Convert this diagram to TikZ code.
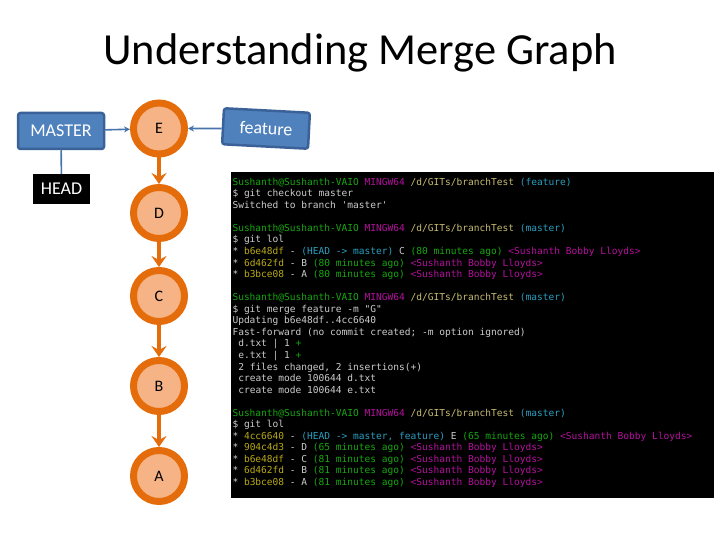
\documentclass[tikz,border=0pt]{standalone}
\usepackage{fontspec}
\setmainfont{Carlito}
\newfontfamily\termfont{DejaVu Sans Mono}
\usetikzlibrary{arrows.meta}
\definecolor{ringorange}{HTML}{E46C0A}
\definecolor{ringfill}{HTML}{F6B486}
\definecolor{boxblue}{HTML}{4F81BD}
\definecolor{boxedge}{HTML}{3A6298}
\definecolor{termgreen}{HTML}{16A80F}
\definecolor{termpink}{HTML}{B5109E}
\definecolor{termpath}{HTML}{C8BC70}
\definecolor{termcyan}{HTML}{2A9FC0}
\definecolor{termgray}{HTML}{CCCCCC}
\definecolor{termhash}{HTML}{B8A818}
\newcommand{\pgreen}[1]{\textcolor{termgreen}{#1}}
\newcommand{\ppink}[1]{\textcolor{termpink}{#1}}
\newcommand{\ppath}[1]{\textcolor{termpath}{#1}}
\newcommand{\pcyan}[1]{\textcolor{termcyan}{#1}}
\newcommand{\phash}[1]{\textcolor{termhash}{#1}}
\newcommand{\prompt}[1]{\pgreen{Sushanth@Sushanth-VAIO} \ppink{MINGW64} \ppath{/d/GITs/branchTest} \pcyan{(#1)}}
\newcommand{\who}{\ppink{<Sushanth Bobby Lloyds>}}
\newcommand{\termrow}[2]{\node[termline] (row#1) at (\xterm,{\ytop+#1*\rowgap}) {#2};}
\tikzset{
    commit/.style = {circle, draw = ringorange, fill = ringfill, line width = 7pt, minimum size = 51pt, inner sep = 0pt, font = \fontsize{16}{16}\selectfont},
    parent/.style = {draw = ringorange, line width = 3.5pt, -{Stealth[inset = 4pt, length = 11pt, width = 15pt]}},
    refbox/.style = {rectangle, rounded corners = 2.5pt, draw = boxedge, fill = boxblue, line width = 2.5pt, text = white, minimum height = 36pt, font = \fontsize{18}{18}\selectfont},
    pointer/.style = {draw = boxblue!90!black, line width = 1.6pt},
    termline/.style = {anchor = base west, inner sep = 0pt, text = termgray, font = \termfont\fontsize{9.55}{9.55}\selectfont}
}
\begin{document}
\begin{tikzpicture}[x = 1pt, y = -1pt]
    % Parametri
    \pgfmathsetmacro{\xring}{159}
    \pgfmathsetmacro{\xterm}{232.3}
    \pgfmathsetmacro{\ytop}{185.2}
    \pgfmathsetmacro{\rowgap}{11.55}
    \useasboundingbox (0,0) rectangle (720,540);
    \fill[white] (0,0) rectangle (720,540);

    % Titolo
    \node (title) at (360,53) {\fontsize{44.4}{44.4}\selectfont Understanding Merge Graph};

    % Commit
    \node[commit] (nodeE) at (\xring,128.5) {E};
    \node[commit] (nodeD) at (\xring,213) {D};
    \node[commit] (nodeC) at (\xring,296) {C};
    \node[commit] (nodeB) at (\xring,386) {B};
    \node[commit] (nodeA) at (\xring,476) {A};
    \draw[parent] (nodeE) -- (nodeD);
    \draw[parent] (nodeD) -- (nodeC);
    \draw[parent] (nodeC) -- (nodeB);
    \draw[parent] (nodeB) -- (nodeA);

    % Riferimenti
    \node[refbox, minimum width = 86pt] (master) at (61,131) {MASTER};
    \node[refbox, minimum width = 86pt, rotate = -3] (feature) at (266,128.5) {feature};
    \node[fill = black, text = white, minimum width = 57pt, minimum height = 30pt, inner sep = 0pt, font = \fontsize{18}{18}\selectfont] (head) at (61.5,189) {HEAD};
    \draw[pointer, -{Stealth[length = 6pt, width = 6pt]}] (master) -- (nodeE);
    \draw[pointer, -{Stealth[length = 6pt, width = 6pt]}] (feature) -- (nodeE);
    \draw[pointer] (master) -- (head);

    % Terminale
    \node[fill = black, minimum width = 483pt, minimum height = 326pt, inner sep = 0pt, anchor = north west] (term) at (231,172) {};
    \termrow{0}{\prompt{feature}}
    \termrow{1}{\$ git checkout master}
    \termrow{2}{Switched to branch 'master'}
    \termrow{4}{\prompt{master}}
    \termrow{5}{\$ git lol}
    \termrow{6}{* \phash{b6e48df} - \pcyan{(HEAD -> master)} C \pgreen{(80 minutes ago)} \who}
    \termrow{7}{* \phash{6d462fd} - B \pgreen{(80 minutes ago)} \who}
    \termrow{8}{* \phash{b3bce08} - A \pgreen{(80 minutes ago)} \who}
    \termrow{10}{\prompt{master}}
    \termrow{11}{\$ git merge feature -m "G"}
    \termrow{12}{Updating b6e48df..4cc6640}
    \termrow{13}{Fast-forward (no commit created; -m option ignored)}
    \termrow{14}{\hspace{5.75pt}d.txt | 1 \pgreen{+}}
    \termrow{15}{\hspace{5.75pt}e.txt | 1 \pgreen{+}}
    \termrow{16}{\hspace{5.75pt}2 files changed, 2 insertions(+)}
    \termrow{17}{\hspace{5.75pt}create mode 100644 d.txt}
    \termrow{18}{\hspace{5.75pt}create mode 100644 e.txt}
    \termrow{20}{\prompt{master}}
    \termrow{21}{\$ git lol}
    \termrow{22}{* \phash{4cc6640} - \pcyan{(HEAD -> master, feature)} E \pgreen{(65 minutes ago)} \who}
    \termrow{23}{* \phash{904c4d3} - D \pgreen{(65 minutes ago)} \who}
    \termrow{24}{* \phash{b6e48df} - C \pgreen{(81 minutes ago)} \who}
    \termrow{25}{* \phash{6d462fd} - B \pgreen{(81 minutes ago)} \who}
    \termrow{26}{* \phash{b3bce08} - A \pgreen{(81 minutes ago)} \who}
\end{tikzpicture}
\end{document}
